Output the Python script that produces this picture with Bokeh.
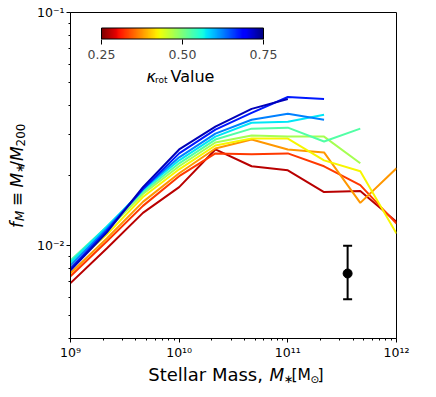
import numpy as np
from bokeh.plotting import figure
from bokeh.layouts import row, column
from bokeh.models import (FixedTicker, ColorBar, LinearColorMapper, Label, Whisker,
                          TeeHead, ColumnDataSource, PrintfTickFormatter, CustomJSTickFormatter)
from bokeh.embed import file_html
from bokeh.resources import INLINE

# ---------------- data ----------------
stellar_mass = [1e9, 2.154e9, 4.642e9, 1e10, 2.154e10, 4.642e10, 1e11, 2.154e11, 4.642e11, 1e12]
kappa_bins = [0.275, 0.325, 0.375, 0.425, 0.475, 0.525, 0.575, 0.625, 0.675, 0.725]

fM_k0275 = [0.00691, 0.00973, 0.01383, 0.01784, 0.02587, 0.02191, 0.02106, 0.01699, 0.01716, 0.01266]
fM_k0325 = [0.00740, 0.01042, 0.01482, 0.01986, 0.02488, 0.02464, 0.02488, 0.02191, 0.01819, 0.01243]
fM_k0375 = [0.00762, 0.01073, 0.01541, 0.02045, 0.02612, 0.02852, 0.02587, 0.02512, 0.01526, 0.02147]
fM_k0425 = [0.00808, 0.01116, 0.01618, 0.02126, 0.02690, 0.02880, 0.02880, 0.02323, 0.02085, 0.01127]
fM_k0475 = [0.00840, 0.01160, 0.01666, 0.02191, 0.02770, 0.02966, 0.02937, 0.02937, 0.02256]
fM_k0525 = [0.00865, 0.01207, 0.01699, 0.02256, 0.02852, 0.03176, 0.03207, 0.02797, 0.03176]
fM_k0575 = [0.00848, 0.01207, 0.01732, 0.02323, 0.02937, 0.03367, 0.03400, 0.03642]
fM_k0625 = [0.00824, 0.01183, 0.01749, 0.02393, 0.03025, 0.03467, 0.03678, 0.03467]
fM_k0675 = [0.00800, 0.01160, 0.01749, 0.02488, 0.03145, 0.03714, 0.04343, 0.04259]
fM_k0725 = [0.00785, 0.01138, 0.01784, 0.02587, 0.03238, 0.03862, 0.04259]

fM_series = [fM_k0275, fM_k0325, fM_k0375, fM_k0425, fM_k0475,
             fM_k0525, fM_k0575, fM_k0625, fM_k0675, fM_k0725]

errbar_mass = [3.55e11]
errbar_fM = [0.0076]
errbar_low = [0.0059]
errbar_high = [0.0100]

cbar_ticks = [0.25, 0.50, 0.75]
kappa_low, kappa_high = 0.25, 0.75

x_major = [1e9, 1e10, 1e11, 1e12]
x_minor = [k * 10.0 ** n for n in (9, 10, 11) for k in range(2, 10)]
y_major = [0.01, 0.1]
y_minor = [k * 10.0 ** n for n in (-3, -2) for k in range(2, 10) if k * 10.0 ** n >= 0.004]

# ---------------- colour map (matplotlib jet, reversed) ----------------
def jet(t):
    r = np.interp(t, [0, 0.35, 0.66, 0.89, 1], [0, 0, 1, 1, 0.5])
    g = np.interp(t, [0, 0.125, 0.375, 0.64, 0.91, 1], [0, 0, 1, 1, 0, 0])
    b = np.interp(t, [0, 0.11, 0.34, 0.65, 1], [0.5, 1, 1, 0, 0])
    return "#%02x%02x%02x" % (int(round(r * 255)), int(round(g * 255)), int(round(b * 255)))

def jet_r(t):
    return jet(1 - t)

palette = [jet_r(i / 255) for i in range(256)]

FONT = "DejaVu Sans"
TOTAL_W, TOTAL_H = 428, 389
YLAB_W = 33
MAIN_H = 362
B_TOP, B_BOTTOM = 12, 21

# ---------------- main figure ----------------
p = figure(width=TOTAL_W - YLAB_W, height=MAIN_H, x_axis_type="log", y_axis_type="log",
           x_range=(1e9, 1e12), y_range=(0.004, 0.1),
           output_backend="svg", toolbar_location=None,
           min_border_left=69 - YLAB_W, min_border_right=32,
           min_border_top=B_TOP, min_border_bottom=B_BOTTOM)
p.background_fill_color = "white"
p.border_fill_color = "white"
p.outline_line_color = "black"
p.outline_line_width = 1
p.grid.visible = False

sup_fmt = CustomJSTickFormatter(code="""
const sup = {'-':'\u207b','0':'\u2070','1':'\u00b9','2':'\u00b2','3':'\u00b3','4':'\u2074','5':'\u2075','6':'\u2076','7':'\u2077','8':'\u2078','9':'\u2079'};
const e = Math.round(Math.log10(tick));
return '10' + String(e).split('').map(c => sup[c]).join('');
""")

p.xaxis.ticker = FixedTicker(ticks=x_major, minor_ticks=x_minor)
p.yaxis.ticker = FixedTicker(ticks=y_major, minor_ticks=y_minor)
for ax in (p.xaxis, p.yaxis):
    ax.formatter = sup_fmt
    ax.axis_line_color = "black"
    ax.major_tick_line_color = "black"
    ax.minor_tick_line_color = "black"
    ax.major_tick_in = 0
    ax.major_tick_out = 4
    ax.minor_tick_in = 0
    ax.minor_tick_out = 2
    ax.major_label_text_font = FONT
    ax.major_label_text_font_size = "12.5px"
    ax.major_label_text_color = "black"
    ax.axis_label = None
p.xaxis.major_label_standoff = 2
p.yaxis.major_label_standoff = 2

for kap, ys in zip(kappa_bins, fM_series):
    t = (kap - kappa_low) / (kappa_high - kappa_low)
    p.line(stellar_mass[:len(ys)], ys, line_color=jet_r(t), line_width=2)

src = ColumnDataSource(dict(x=errbar_mass, y=errbar_fM, lo=errbar_low, hi=errbar_high))
p.add_layout(Whisker(source=src, base="x", lower="lo", upper="hi", dimension="height",
                     line_color="black", line_width=2,
                     upper_head=TeeHead(size=9, line_width=2, line_color="black"),
                     lower_head=TeeHead(size=9, line_width=2, line_color="black")))
p.scatter("x", "y", source=src, size=9, color="black")

mapper = LinearColorMapper(palette=palette, low=kappa_low, high=kappa_high)
cb = ColorBar(color_mapper=mapper, orientation="horizontal", location=(31, 276.5),
              width=162, height=11, padding=0, margin=0,
              ticker=FixedTicker(ticks=cbar_ticks), formatter=PrintfTickFormatter(format="%.2f"),
              major_tick_out=5, major_tick_in=0, major_tick_line_color="black",
              minor_tick_line_color=None, bar_line_color="black", bar_line_width=1,
              background_fill_alpha=0, border_line_color=None,
              major_label_text_font=FONT, major_label_text_font_size="12.5px",
              label_standoff=6)
p.add_layout(cb)


def add_text(fig, text, x, y, size, italic=False, angle=0.0):
    fig.add_layout(Label(x=x, y=y, x_units="screen", y_units="screen", text=text,
                         text_font=FONT, text_font_size=f"{size}px",
                         text_font_style="italic" if italic else "normal",
                         text_color="black", text_align="left", text_baseline="alphabetic",
                         angle=angle))


# colour bar title: kappa_rot Value (frame coordinates of main plot)
add_text(p, "\u03ba", 76, 262, 16, italic=True)
add_text(p, "rot", 84.5, 258.5, 9)
add_text(p, "Value", 100, 262, 16)


def blank_fig(w, h, top=0, bottom=0):
    f = figure(width=w, height=h, x_range=(0, w), y_range=(0, h),
               output_backend="svg", toolbar_location=None,
               x_axis_location=None, y_axis_location=None,
               min_border_left=0, min_border_right=0,
               min_border_top=top, min_border_bottom=bottom)
    f.outline_line_color = None
    f.grid.visible = False
    f.background_fill_color = "white"
    f.border_fill_color = "white"
    return f


# ---------------- y label panel: f_M = M_* / M_200 ----------------
ylab = blank_fig(YLAB_W, MAIN_H, top=B_TOP, bottom=B_BOTTOM)
A = np.pi / 2
BX, SX = 16.0, 19.5
Y0 = MAIN_H - B_BOTTOM
add_text(ylab, "f", BX, Y0 - 230.5, 17, italic=True, angle=A)
add_text(ylab, "M", SX, Y0 - 223.5, 11.9, italic=True, angle=A)
add_text(ylab, "\u2261", BX, Y0 - 208.7, 17, angle=A)
add_text(ylab, "M", BX, Y0 - 190.0, 17, italic=True, angle=A)
add_text(ylab, "\u2217", SX, Y0 - 175.3, 11.9, angle=A)
add_text(ylab, "/", BX, Y0 - 169.3, 17, angle=A)
add_text(ylab, "M", BX, Y0 - 163.6, 17, italic=True, angle=A)
add_text(ylab, "200", SX, Y0 - 148.9, 11.9, angle=A)

# ---------------- x label panel: Stellar Mass, M_* [M_sun] ----------------
xlab = blank_fig(TOTAL_W, TOTAL_H - MAIN_H)
XB, XS = 15, 11
add_text(xlab, "Stellar Mass,", 147.7, XB, 18)
add_text(xlab, "M", 269, XB, 17, italic=True)
add_text(xlab, "\u2217", 283.5, XS, 11.5)
add_text(xlab, "[M", 291, XB, 15.5)
add_text(xlab, "\u2299", 310, XS, 10.5)
add_text(xlab, "]", 317, XB, 15.5)

layout = column(row(ylab, p, spacing=0), xlab, spacing=0)
open("out.html", "w").write(file_html(layout, INLINE))
